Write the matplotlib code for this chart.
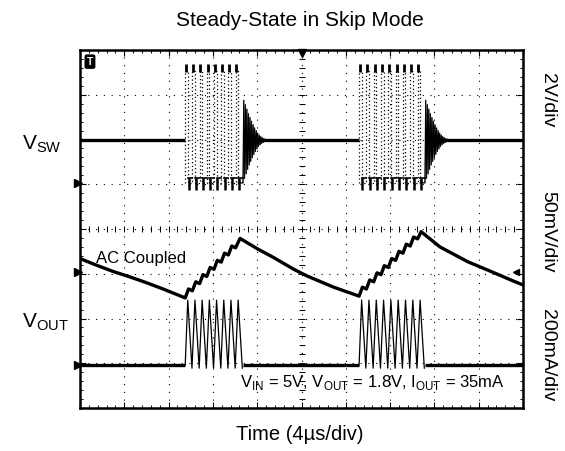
import numpy as np
import matplotlib.pyplot as plt
from matplotlib.ticker import MultipleLocator

plt.rcParams['font.family'] = ['Liberation Sans', 'DejaVu Sans']
plt.rcParams['mathtext.fontset'] = 'custom'
plt.rcParams['mathtext.rm'] = 'Liberation Sans'

# --- scope setup: 10 x 8 divisions, 4us/div ---
t_span = 40.0                        # us
vsw_scale, vsw_gnd = 2.0, 5.03       # V/div, ground marker (div)
vout_scale, vout_ref = 50.0, 3.05    # mV/div, AC reference (div)
il_scale, il_gnd = 200.0, 0.96       # mA/div, zero marker (div)

# --- switching bursts (us) ---
burst1_pulses = [9.5, 10.15, 10.8, 11.45, 12.1, 12.75, 13.4, 14.05]
burst2_pulses = [25.2, 25.86, 26.52, 27.18, 27.84, 28.5, 29.16, 29.82, 30.48]
t_on = 0.23
t_sw = 0.65

# VSW levels (V)
vsw_idle = 1.9
vsw_high = 5.0
vsw_low = 0.0
# ringing after each burst, half-cycle peaks (V about idle)
ring_amp = [1.9, 1.8, 1.7, 1.6, 1.5, 1.4, 1.3, 1.2, 1.1, 1.02,
            0.94, 0.86, 0.78, 0.7, 0.63, 0.56, 0.5, 0.44, 0.38, 0.33,
            0.28, 0.24, 0.2, 0.17, 0.14, 0.12, 0.1, 0.08, 0.06, 0.05]
ring_step = 0.07

# inductor current (mA)
il_peak = 290.0
il_valley = -14.0

# VOUT, AC coupled (us, mV)
vout_t = [0.0, 1.5, 3.0, 4.5, 6.0, 7.5, 9.5,
          9.8, 10.15, 10.45, 10.8, 11.1, 11.45, 11.75, 12.1, 12.4, 12.75,
          13.05, 13.4, 13.7, 14.05, 14.45,
          16.0, 17.5, 19.3, 20.5, 22.9, 25.2,
          25.5, 25.86, 26.16, 26.52, 26.82, 27.18, 27.48, 27.84, 28.14, 28.5,
          28.8, 29.16, 29.46, 29.82, 30.12, 30.48, 30.8,
          32.5, 35.0, 37.5, 39.1, 40.0]
vout_mv = [14.5, 7.0, 0.0, -6.0, -12.5, -19.5, -29.5,
           -19.5, -21.5, -11.5, -13.5, -3.5, -5.5, 4.5, 2.5, 12.5, 10.5,
           20.5, 18.5, 28.5, 26.5, 37.0,
           25.5, 15.5, 2.5, -5.0, -17.5, -27.5,
           -17.5, -19.5, -9.5, -11.5, -1.5, -3.5, 6.5, 4.5, 14.5, 12.5,
           22.5, 20.5, 30.5, 28.5, 38.5, 36.5, 44.5,
           27.5, 11.0, -2.0, -10.5, -15.0]


def vsw_y(v):
    return vsw_gnd + np.asarray(v) / vsw_scale


def il_y(i):
    return il_gnd + np.asarray(i) / il_scale


fig = plt.figure(figsize=(5.65, 4.51), dpi=100)
ax = fig.add_axes([80 / 565, 43 / 451, 443 / 565, 358 / 451])
ax.set_xlim(0, t_span)
ax.set_ylim(0, 8)

# graticule
ax.xaxis.set_major_locator(MultipleLocator(4))
ax.xaxis.set_minor_locator(MultipleLocator(0.8))
ax.yaxis.set_major_locator(MultipleLocator(1))
ax.yaxis.set_minor_locator(MultipleLocator(0.2))
ax.tick_params(which='both', direction='in', top=True, right=True,
               labelbottom=False, labelleft=False, color='k')
ax.tick_params(which='major', length=4, width=0.8)
ax.tick_params(which='minor', length=2.5, width=0.7)
ax.grid(which='major', color='k', lw=0.8, ls=(0, (1, 6)))
for s in ax.spines.values():
    s.set_linewidth(1.8)
ax.plot(np.arange(0, t_span + 0.01, 0.8), np.full(51, 4.0), ls='none',
        marker='|', ms=4, mew=0.7, color='k')
ax.plot(np.full(41, 20.0), np.arange(0, 8.01, 0.2), ls='none',
        marker='_', ms=4, mew=0.7, color='k')

# --- VSW ---
bursts = [burst1_pulses, burst2_pulses]
idle_x = [0.0]
for b in bursts:
    idle_x += [b[0], b[-1] + t_sw]
idle_x.append(t_span)
for k in range(0, len(idle_x), 2):
    ax.plot([idle_x[k], idle_x[k + 1]], vsw_y([vsw_idle, vsw_idle]),
            color='k', lw=2.4, solid_capstyle='butt')

for b in bursts:
    xs, vs = [], []
    for t0 in b:
        xs += [t0, t0, t0 + t_on, t0 + t_on]
        vs += [vsw_low, vsw_high, vsw_high, vsw_low]
    ax.plot(xs, vsw_y(vs), color='k', lw=0.9, ls=(0, (1, 2)))
    ax.plot([t + 0.08 for t in b], vsw_y([vsw_high + 0.12] * len(b)),
            ls='none', marker='|', ms=6, mew=2, color='k')
    ax.plot([t + 0.3 for t in b], vsw_y([vsw_low - 0.05] * len(b)),
            ls='none', marker='|', ms=9, mew=1.8, color='k')
    for t0 in b:
        ax.plot([t0 + t_on, t0 + t_sw], vsw_y([vsw_low + 0.2] * 2),
                color='k', lw=1.2)
    # ringing, drawn twice (two sweeps) like the scope persistence
    t_ring = b[-1] + t_sw
    for shift in (0.0, ring_step / 2):
        rx = [t_ring + shift + k * ring_step for k in range(len(ring_amp))]
        rv = [vsw_idle + (a if k % 2 else -a) for k, a in enumerate(ring_amp)]
        ax.plot([b[-1] + t_on] + rx, vsw_y([vsw_low] + rv),
                color='k', lw=0.6)

# --- inductor current ---
il_idle = [0.0]
for b in bursts:
    il_idle += [b[0], b[-1] + t_sw]
il_idle.append(t_span)
for k in range(0, len(il_idle), 2):
    ax.plot([il_idle[k], il_idle[k + 1]], il_y([0, 0]),
            color='k', lw=2.4, solid_capstyle='butt')
for b in bursts:
    xs, cs = [b[0]], [0.0]
    for t0 in b:
        xs += [t0 + t_on, t0 + t_sw - 0.04]
        cs += [il_peak, il_valley]
    ax.plot(xs, il_y(cs), color='k', lw=0.9)

# --- VOUT ---
ax.plot(vout_t, vout_ref + np.array(vout_mv) / vout_scale, color='k', lw=2.4)

# channel markers
for y in [vsw_gnd, vout_ref, il_gnd]:
    ax.plot(-0.2, y, marker='>', ms=6, color='k', clip_on=False)
ax.plot(39.4, vout_ref, marker='<', ms=5, color='k')
ax.plot(20, 7.93, marker='v', ms=6, color='k', clip_on=False)
ax.text(0.9, 7.74, 'T', fontsize=7.5, fontweight='bold', color='white',
        ha='center', va='center',
        bbox=dict(boxstyle='round,pad=0.15', fc='k', ec='k'))

# annotations
ax.text(1.45, 3.35, 'AC Coupled', fontsize=12, ha='left', va='center')
ax.text(14.45, 0.58,
        r'V$_\mathrm{IN}$ = 5V, V$_\mathrm{OUT}$ = 1.8V, I$_\mathrm{OUT}$ = 35mA',
        fontsize=12, ha='left', va='center')

fig.text(300 / 565, 1 - 20 / 451, 'Steady-State in Skip Mode',
         ha='center', va='center', fontsize=15)
fig.text(300 / 565, 1 - 435 / 451, 'Time (4µs/div)',
         ha='center', va='center', fontsize=14.5)
fig.text(22 / 565, 1 - 144 / 451, r'V$_\mathrm{SW}$', ha='left', va='center',
         fontsize=15)
fig.text(22 / 565, 1 - 322 / 451, r'V$_\mathrm{OUT}$', ha='left', va='center',
         fontsize=15)
for label, yp in [('2V/div', 100), ('50mV/div', 232), ('200mA/div', 355)]:
    fig.text(548 / 565, 1 - yp / 451, label, rotation=270,
             ha='center', va='center', fontsize=14)

fig.savefig('out.png', dpi=100)
